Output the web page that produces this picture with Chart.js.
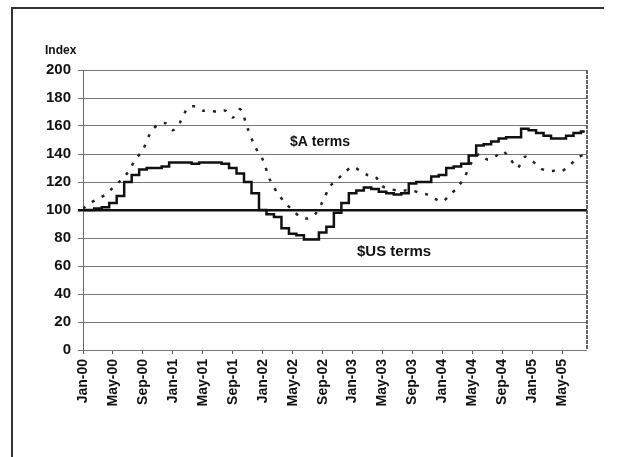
<!DOCTYPE html>
<html>
<head>
<meta charset="utf-8">
<script src="https://cdn.jsdelivr.net/npm/chart.js@4"></script>
<style>
  html, body { margin: 0; padding: 0; background: #fff; }
  #wrap { width: 624px; height: 457px; }
</style>
</head>
<body>
<div id="wrap"><canvas id="chart" width="624" height="457"></canvas></div>
<script>
// monthly, Jan-00 .. Aug-05
const monthNames = ['Jan', 'Feb', 'Mar', 'Apr', 'May', 'Jun', 'Jul', 'Aug', 'Sep', 'Oct', 'Nov', 'Dec'];
const months = [];
for (let y = 0; y <= 5; y++) {
  for (let m = 0; m < 12; m++) {
    if (y === 5 && m > 7) break;
    months.push(monthNames[m] + '-0' + y);
  }
}

const usTerms = [
  100, 100, 101, 102, 105, 110, 120, 125, 129, 130, 130, 131,
  134, 134, 134, 133, 134, 134, 134, 133, 130, 126, 120, 112,
  100, 97, 95, 87, 83, 82, 79, 79, 84, 88, 98, 105,
  112, 114, 116, 115, 113, 112, 111, 112, 119, 120, 120, 124,
  125, 130, 131, 133, 139, 146, 147, 149, 151, 152, 152, 158,
  157, 155, 153, 151, 151, 153, 155, 156
];

const audTerms = [
  101, 105, 108, 111, 116, 121, 127, 136, 143, 155, 161, 162,
  157, 163, 173, 174, 171, 171, 170, 171, 166, 172, 158, 145,
  136, 121, 112, 105, 100, 95, 94, 97, 106, 117, 122, 127,
  131, 128, 125, 124, 117, 115, 114, 114, 114, 112, 111, 108,
  106, 111, 116, 124, 135, 140, 136, 138, 142, 137, 130, 138,
  135, 130, 128, 128, 128, 132, 137, 140
];

const yTicks = [0, 20, 40, 60, 80, 100, 120, 140, 160, 180, 200];

const toPoints = arr => arr.map((v, i) => ({ x: i, y: v }));

const FONT = '"Liberation Sans", Arial, sans-serif';

// frame + free text labels
const decor = {
  id: 'decor',
  beforeDraw(chart) {
    const c = chart.ctx;
    c.save();
    c.fillStyle = '#fff';
    c.fillRect(0, 0, chart.width, chart.height);
    c.strokeStyle = '#333';
    c.lineWidth = 2;
    c.beginPath();
    c.moveTo(12, 457);
    c.lineTo(12, 8);
    c.lineTo(604, 8);
    c.stroke();
    c.restore();
  },
  afterDraw(chart) {
    const c = chart.ctx;
    c.save();
    c.fillStyle = '#111';
    c.textBaseline = 'middle';
    c.font = 'bold 12px ' + FONT;
    c.fillText('Index', 45, 51);
    c.font = 'bold 14px ' + FONT;
    c.fillText('$A terms', 290, 142);
    c.font = 'bold 15px ' + FONT;
    c.fillText('$US terms', 357, 252);
    // right border of plot
    const a = chart.chartArea;
    c.strokeStyle = '#333';
    c.lineWidth = 1.5;
    c.setLineDash([4, 1]);
    c.beginPath();
    c.moveTo(a.right, a.top);
    c.lineTo(a.right, a.bottom);
    c.stroke();
    c.restore();
  }
};

new Chart(document.getElementById('chart'), {
  type: 'line',
  data: {
    datasets: [
      {
        label: '$US terms',
        data: toPoints(usTerms),
        borderColor: '#111',
        borderWidth: 2.5,
        pointRadius: 0,
        stepped: 'middle',
        fill: false
      },
      {
        label: '$A terms',
        data: toPoints(audTerms),
        borderColor: '#222',
        borderWidth: 2.5,
        borderDash: [3, 8],
        pointRadius: 0,
        tension: 0.3,
        fill: false
      }
    ]
  },
  options: {
    responsive: false,
    animation: false,
    layout: { padding: { left: 0, top: 70, right: 37, bottom: 0 } },
    plugins: {
      legend: { display: false },
      tooltip: { enabled: false }
    },
    scales: {
      x: {
        type: 'linear',
        min: 0,
        max: 67.3,
        afterFit(scale) { scale.height = 107; },
        border: { display: false },
        grid: { display: true, drawOnChartArea: false, drawTicks: true, tickLength: 4, color: '#555' },
        ticks: {
          stepSize: 4,
          includeBounds: false,
          autoSkip: false,
          maxRotation: 90,
          minRotation: 90,
          padding: 5,
          color: '#111',
          font: { family: FONT, size: 14, weight: 'bold' },
          callback: v => months[v] || ''
        }
      },
      y: {
        min: 0,
        max: 200,
        afterFit(scale) { scale.width = 83; },
        afterBuildTicks(scale) { scale.ticks = yTicks.map(v => ({ value: v })); },
        border: { display: true, color: '#666', width: 1 },
        grid: {
          color: ctx => ctx.tick && ctx.tick.value === 100 ? '#111' : '#777',
          lineWidth: ctx => ctx.tick && ctx.tick.value === 100 ? 2.5 : 1,
          tickLength: 5
        },
        ticks: {
          padding: 7,
          color: '#111',
          font: { family: FONT, size: 15, weight: 'bold' }
        }
      }
    }
  },
  plugins: [decor]
});
</script>
</body>
</html>
